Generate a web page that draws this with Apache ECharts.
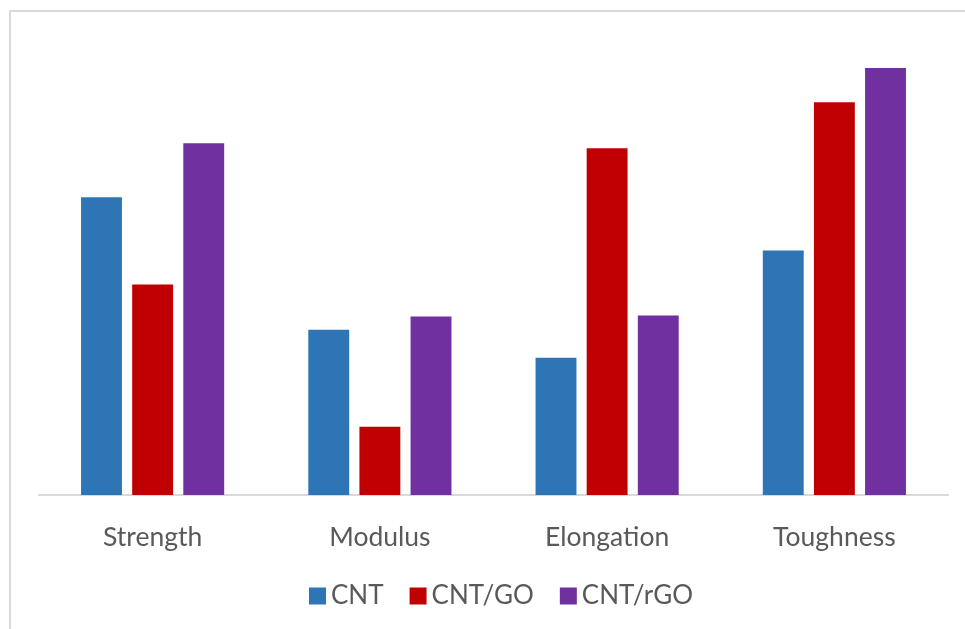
<!DOCTYPE html>
<html>
<head>
<meta charset="utf-8">
<script src="https://cdn.jsdelivr.net/npm/echarts@6/dist/echarts.min.js"></script>
<style>
  html, body { margin: 0; padding: 0; background: #fff; }
  #chart { width: 965px; height: 629px; }
</style>
</head>
<body>
<div id="chart"></div>
<script>
// Mechanical properties of fibres (relative units)
const categories = ['Strength', 'Modulus', 'Elongation', 'Toughness'];
const seriesNames = ['CNT', 'CNT/GO', 'CNT/rGO'];
const cntValues = [297, 165, 137, 244];
const cntGoValues = [210, 68, 346, 392];
const cntRgoValues = [351, 178, 179, 426];
const colors = ['#2e75b6', '#c00000', '#7030a0'];

const chart = echarts.init(document.getElementById('chart'), null, { renderer: 'canvas' });

const labelFont = 'Lato, "Open Sans", sans-serif';

chart.setOption({
  animation: false,
  color: colors,
  graphic: [{
    type: 'rect',
    shape: { x: 10, y: 11, width: 1000, height: 700 },
    style: { fill: 'none', stroke: '#d9d9d9', lineWidth: 2 },
    silent: true,
    z: -1
  }],
  grid: { left: 39, right: 17, top: 44, bottom: 134, containLabel: false },
  legend: {
    bottom: 15,
    left: 304,
    itemWidth: 17,
    itemHeight: 17,
    itemGap: 26,
    icon: 'rect',
    textStyle: { fontSize: 26, color: '#595959', fontFamily: labelFont, padding: [0, 0, 0, 0] },
    data: seriesNames
  },
  xAxis: {
    type: 'category',
    data: categories,
    axisLine: { lineStyle: { color: '#d9d9d9', width: 2 } },
    axisTick: { show: false },
    axisLabel: { fontSize: 26.5, color: '#595959', fontFamily: labelFont, margin: 29 }
  },
  yAxis: {
    type: 'value',
    min: 0,
    max: 450,
    show: false,
    splitLine: { show: false }
  },
  series: [
    { name: seriesNames[0], type: 'bar', data: cntValues, barGap: '25%', barCategoryGap: '37%' },
    { name: seriesNames[1], type: 'bar', data: cntGoValues, barGap: '25%', barCategoryGap: '37%' },
    { name: seriesNames[2], type: 'bar', data: cntRgoValues, barGap: '25%', barCategoryGap: '37%' }
  ]
});
</script>
</body>
</html>
